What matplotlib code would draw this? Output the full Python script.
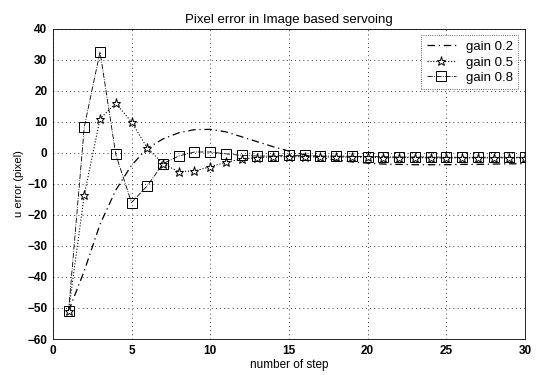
import matplotlib
matplotlib.use("Agg")
import matplotlib.pyplot as plt
import numpy as np

steps = list(range(1, 31))
gain02 = [-51, -38, -23, -12, -4, 1.5, 4.5, 6.5, 7.5, 7.6, 6.8, 5.2, 3.6, 2.0, 0.6,
          -0.6, -1.5, -2.3, -2.9, -3.3, -3.6, -3.7, -3.8, -3.8, -3.8, -3.7, -3.7, -3.6, -3.5, -3.5]
gain05 = [-51, -13.5, 11, 16, 10, 1.6, -3.5, -6, -5.8, -4.5, -3, -2, -1.5, -1.2, -1.2,
          -1.2, -1.3, -1.3, -1.4, -1.4, -1.5, -1.5, -1.5, -1.6, -1.6, -1.6, -1.6, -1.6, -1.6, -1.6]
gain08 = [-51, 8.4, 32.6, -0.5, -16, -10.6, -3.5, -1, 0.3, 0.3, -0.3, -0.8, -1, -1, -0.8,
          -0.8, -1, -1, -1.1, -1.2, -1.2, -1.3, -1.3, -1.3, -1.4, -1.4, -1.4, -1.4, -1.4, -1.4]
labels = ["gain 0.2", "gain 0.5", "gain 0.8"]

plt.rcParams['font.family'] = ['Liberation Sans', 'DejaVu Sans']
fig = plt.figure(figsize=(5.39, 3.75), dpi=100)
ax = fig.add_axes([0.098, 0.096, 0.876, 0.827])

ax.plot(steps, gain02, color='black', linestyle=(0, (6, 3, 1, 3)), linewidth=0.9,
        label=labels[0])
ax.plot(steps, gain05, color='black', linestyle=':', linewidth=0.8,
        marker='*', markersize=6.5, markerfacecolor='white', markeredgewidth=0.7, label=labels[1])
ax.plot(steps, gain08, color='black', linestyle='-.', linewidth=0.6,
        marker='s', markersize=7, markerfacecolor='none', markeredgewidth=0.7, label=labels[2])

ax.set_xlim(0, 30)
ax.set_ylim(-60, 40)
ax.set_xticks(range(0, 31, 5))
ax.set_yticks(range(-60, 41, 10))
ax.grid(True, linestyle=(0, (1, 4)), color='black', linewidth=0.6)
for s in ax.spines.values():
    s.set_linewidth(0.6)
ax.tick_params(labelsize=8.5, length=0, pad=4)
for t in ax.get_xticklabels() + ax.get_yticklabels():
    t.set_fontweight('bold')
ax.set_title("Pixel error in Image based servoing", fontsize=9.5, pad=4)
ax.set_xlabel("number of step", fontsize=8.5, labelpad=2)
ax.set_ylabel("u error (pixel)", fontsize=8, labelpad=2)

leg = ax.legend(loc='upper right', fontsize=9.5, frameon=True, fancybox=False,
                edgecolor='black', handlelength=2.2, borderpad=0.4, labelspacing=0.25)
leg.get_frame().set_linewidth(0.6)
leg.get_frame().set_linestyle(':')

fig.savefig("out.png", dpi=100)
